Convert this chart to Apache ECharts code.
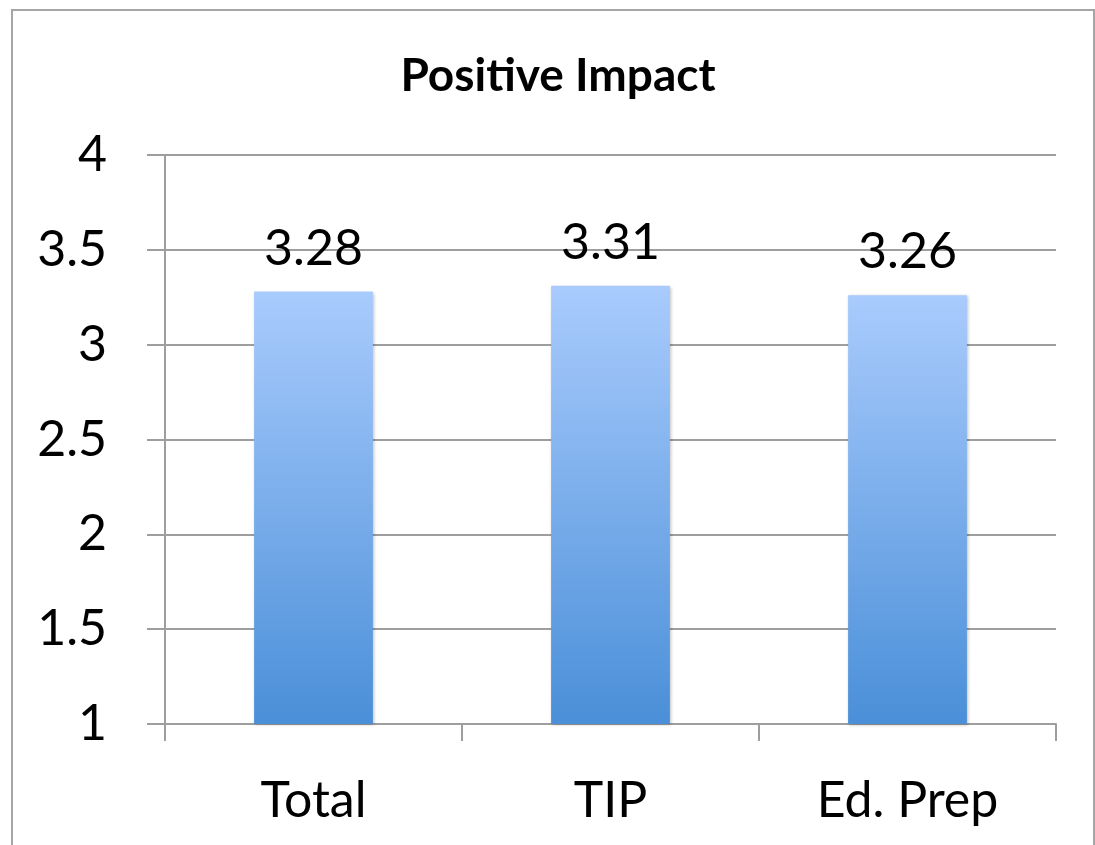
<!DOCTYPE html>
<html>
<head>
<meta charset="utf-8">
<script src="https://cdn.jsdelivr.net/npm/echarts@6/dist/echarts.min.js"></script>
<style>
  html, body { margin: 0; padding: 0; background: #fff; }
  #chart { width: 1095px; height: 845px; }
</style>
</head>
<body>
<div id="chart"></div>
<script>
// data
const categories = ['Total', 'TIP', 'Ed. Prep'];
const values = [3.28, 3.31, 3.26];

const chart = echarts.init(document.getElementById('chart'));

chart.setOption({
  backgroundColor: '#fff',
  animation: false,
  title: {
    text: 'Positive Impact',
    left: 553,
    textAlign: 'center',
    top: 48,
    textStyle: { fontFamily: 'Lato', fontWeight: 'bold', fontSize: 46, color: '#000' }
  },
  graphic: [
    {
      type: 'rect',
      shape: { x: 12, y: 10, width: 1082, height: 860 },
      style: { fill: 'none', stroke: '#a6a6a6', lineWidth: 2 },
      silent: true
    }
  ],
  grid: { left: 165, right: 39, top: 155, bottom: 121 },
  xAxis: {
    type: 'category',
    data: categories,
    axisLine: { lineStyle: { color: '#9e9e9e', width: 2 } },
    axisTick: { show: true, length: 17, lineStyle: { color: '#9e9e9e', width: 2 } },
    axisLabel: { margin: 52, fontFamily: 'Lato', fontSize: 50, color: '#000' }
  },
  yAxis: {
    type: 'value',
    min: 1,
    max: 4,
    interval: 0.5,
    axisLine: { show: true, lineStyle: { color: '#9e9e9e', width: 2 } },
    axisTick: { show: true, length: 18, lineStyle: { color: '#9e9e9e', width: 2 } },
    splitLine: { lineStyle: { color: '#9e9e9e', width: 2 } },
    axisLabel: { margin: 58, fontFamily: 'Lato', fontSize: 50, color: '#000' }
  },
  series: [
    {
      type: 'bar',
      data: values,
      barWidth: '40%',
      itemStyle: {
        color: new echarts.graphic.LinearGradient(0, 0, 0, 1, [
          { offset: 0, color: '#a9cbfd' },
          { offset: 1, color: '#4a8fd8' }
        ]),
        shadowColor: 'rgba(0,0,0,0.25)',
        shadowBlur: 3,
        shadowOffsetX: 1,
        shadowOffsetY: 1
      },
      label: {
        show: true,
        position: 'top',
        distance: 18,
        fontFamily: 'Lato',
        fontSize: 50,
        color: '#000',
        formatter: p => p.value.toFixed(2)
      }
    }
  ]
});
</script>
</body>
</html>
